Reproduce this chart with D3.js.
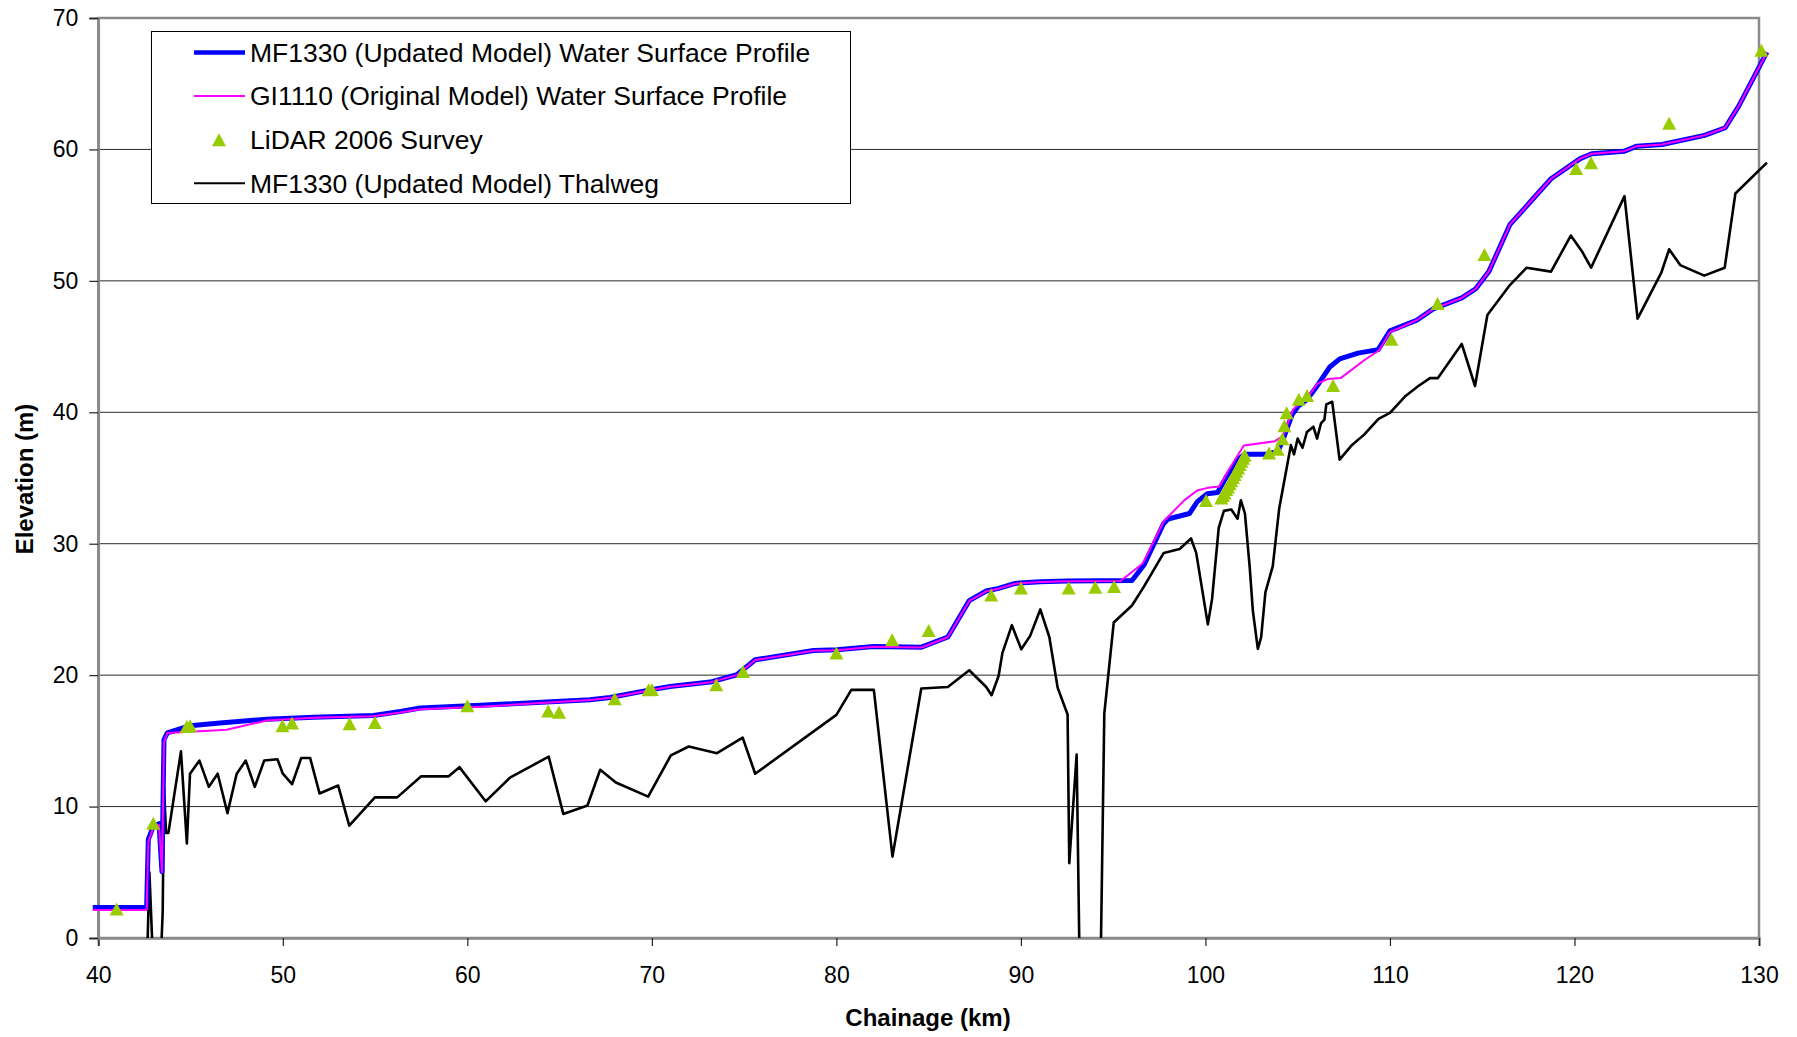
<!DOCTYPE html>
<html>
<head>
<meta charset="utf-8">
<script src="https://cdn.jsdelivr.net/npm/d3@7"></script>
<style>
  body { margin: 0; background: #fff; }
  svg { display: block; font-family: "Liberation Sans", Arial, sans-serif; }
</style>
</head>
<body>
<svg id="chart" width="1797" height="1037"></svg>
<script>
// chainage (km), elevation (m)
const thalweg = [
  [40, -3], [42.62, -3], [42.77, 5.0], [43.0, -3], [43.35, -3], [43.49, 2.0], [43.56, 11.5],
  [43.67, 8.0], [43.8, 8.0], [44.48, 14.2], [44.8, 7.2], [44.97, 12.5], [45.48, 13.5],
  [45.99, 11.5], [46.47, 12.5], [47.0, 9.5], [47.5, 12.5], [47.99, 13.5], [48.48, 11.5],
  [48.99, 13.5], [49.71, 13.6], [50.0, 12.5], [50.5, 11.7], [51.0, 13.7], [51.48, 13.7],
  [51.99, 11.0], [53.0, 11.6], [53.6, 8.55], [54.99, 10.7], [56.2, 10.7], [57.5, 12.3],
  [58.99, 12.3], [59.57, 13.0], [60.99, 10.4], [62.31, 12.2], [64.41, 13.8], [65.2, 9.44],
  [66.51, 10.08], [67.2, 12.8], [68.05, 11.83], [69.8, 10.76], [71.03, 13.9], [72.0, 14.57],
  [73.53, 14.06], [74.92, 15.25], [75.6, 12.5], [80.0, 16.98], [80.81, 18.88], [82.03, 18.88],
  [83.04, 6.19], [84.6, 18.98], [86.04, 19.1], [87.2, 20.37], [88.12, 19.1], [88.41, 18.47],
  [88.79, 19.93], [89.0, 21.7], [89.51, 23.8], [90.02, 21.97], [90.5, 22.99], [91.05, 25.0],
  [91.54, 22.9], [91.99, 19.05], [92.53, 17.0], [92.62, 5.7], [93.02, 13.95], [93.2, -4],
  [94.3, -4], [94.52, 17.08], [95.03, 24.0], [96.02, 25.3], [96.65, 26.7], [97.74, 29.3],
  [98.6, 29.6], [99.22, 30.4], [99.5, 29.3], [100.13, 23.86], [100.36, 25.8], [100.72, 31.2],
  [101.0, 32.5], [101.4, 32.6], [101.74, 31.9], [101.92, 33.3], [102.14, 32.3], [102.4, 28.2],
  [102.57, 24.9], [102.84, 22.0], [103.02, 22.9], [103.25, 26.3], [103.65, 28.3], [104.0, 32.7],
  [104.63, 37.5], [104.8, 36.8], [105.0, 38.0], [105.26, 37.3], [105.5, 38.5], [105.85, 38.9],
  [106.05, 38.0], [106.26, 39.15], [106.45, 39.45], [106.55, 40.6], [106.87, 40.8], [107.27, 36.4],
  [107.9, 37.45], [108.6, 38.3], [109.38, 39.5], [110.0, 39.95], [110.81, 41.2], [111.54, 42.0],
  [112.17, 42.6], [112.6, 42.6], [113.89, 45.2], [114.61, 42.0], [115.28, 47.4], [116.51, 49.7],
  [117.41, 51.0], [118.73, 50.7], [119.8, 53.45], [120.4, 52.26], [120.9, 51.0], [122.71, 56.45],
  [123.42, 47.13], [124.7, 50.6], [125.13, 52.4], [125.73, 51.2], [127.03, 50.4], [128.14, 51.0],
  [128.72, 56.65], [130.43, 59.0]
];

const wsUpdated = [
  [39.7, 2.33], [42.62, 2.33], [42.71, 7.5], [42.98, 8.5], [43.29, 8.7], [43.45, 5.05],
  [43.56, 15.1], [43.74, 15.6], [44.97, 16.15], [46.6, 16.35], [49.13, 16.65], [51.66, 16.8],
  [54.92, 16.93], [56.37, 17.23], [57.45, 17.5], [60.7, 17.7], [66.65, 18.12], [67.74, 18.3],
  [69.91, 18.88], [70.99, 19.14], [73.16, 19.47], [74.61, 20.03], [75.6, 21.17], [78.76, 21.88],
  [80.03, 21.93], [82.03, 22.18], [84.61, 22.13], [86.04, 22.9], [87.2, 25.67], [88.12, 26.4],
  [88.79, 26.6], [89.69, 26.98], [91.05, 27.1], [92.5, 27.16], [96.02, 27.2], [96.68, 28.4],
  [97.72, 31.5], [97.97, 31.88], [99.14, 32.3], [99.56, 33.2], [100.1, 33.8], [100.66, 33.9],
  [101.13, 35.08], [101.76, 36.4], [102.13, 36.8], [103.3, 36.8], [103.93, 37.03], [104.2, 37.9],
  [104.69, 39.8], [105.02, 40.46], [105.53, 41.0], [106.1, 42.1], [106.74, 43.45], [107.28, 44.06],
  [108.27, 44.5], [109.36, 44.77], [110.0, 46.2], [111.45, 47.0], [112.35, 47.87], [113.89, 48.7],
  [114.65, 49.4], [115.37, 50.74], [116.51, 54.3], [117.6, 56.0], [118.73, 57.77], [120.31, 59.3],
  [120.94, 59.67], [122.71, 59.87], [123.38, 60.25], [124.74, 60.38], [127.05, 61.07],
  [128.17, 61.65], [128.9, 63.3], [130.43, 67.4]
];

const wsOriginal = [
  [39.7, 2.13], [42.62, 2.13], [42.71, 7.3], [42.98, 8.4], [43.29, 8.6], [43.45, 5.0],
  [43.56, 14.9], [43.74, 15.6], [46.96, 15.84], [48.05, 16.2], [49.13, 16.55], [51.66, 16.75],
  [54.92, 16.88], [56.37, 17.15], [57.45, 17.4], [60.7, 17.6], [66.65, 18.1], [67.74, 18.28],
  [69.91, 18.85], [70.99, 19.12], [73.16, 19.45], [74.61, 20.0], [75.6, 21.15], [78.76, 21.86],
  [80.03, 21.9], [82.03, 22.16], [84.61, 22.1], [86.04, 22.88], [87.2, 25.65], [88.12, 26.38],
  [88.79, 26.58], [89.69, 26.96], [91.05, 27.08], [92.5, 27.14], [95.4, 27.16], [96.6, 28.5],
  [97.76, 31.75], [98.85, 33.3], [99.55, 34.05], [100.12, 34.25], [100.75, 34.35], [101.3, 35.7],
  [102.08, 37.47], [103.77, 37.8], [104.2, 38.2], [104.75, 40.2], [105.2, 40.84], [105.65, 41.35],
  [106.07, 42.18], [106.65, 42.54], [107.33, 42.6], [108.64, 44.0], [109.42, 44.72], [110.0, 46.1],
  [111.45, 47.0], [112.35, 47.87], [113.89, 48.7], [114.65, 49.4], [115.37, 50.74], [116.51, 54.3],
  [117.6, 56.0], [118.73, 57.77], [120.31, 59.3], [120.94, 59.67], [122.71, 59.87], [123.38, 60.25],
  [124.74, 60.38], [127.05, 61.07], [128.17, 61.65], [128.9, 63.3], [130.43, 67.4]
];

const lidar = [
  [40.99, 2.2], [42.98, 8.73], [44.79, 16.1], [44.97, 16.15], [49.98, 16.14], [50.5, 16.35],
  [53.62, 16.3], [54.99, 16.4], [60.0, 17.67], [64.38, 17.28], [64.97, 17.18], [67.99, 18.2],
  [69.82, 18.88], [70.0, 18.9], [73.49, 19.26], [74.94, 20.28], [80.0, 21.68], [83.02, 22.69],
  [85.0, 23.4], [88.39, 26.1], [90.0, 26.63], [92.59, 26.63], [94.03, 26.69], [95.05, 26.75],
  [100.03, 33.28], [100.86, 33.48], [100.95, 33.66], [101.04, 33.86], [101.13, 34.12],
  [101.22, 34.32], [101.31, 34.57], [101.4, 34.8], [101.49, 35.03], [101.58, 35.26],
  [101.67, 35.51], [101.77, 35.77], [101.86, 36.02], [101.95, 36.27], [102.04, 36.5],
  [102.13, 36.73], [103.45, 36.9], [103.91, 37.18], [104.17, 37.98], [104.28, 38.98],
  [104.4, 39.96], [105.06, 41.0], [105.51, 41.27], [106.92, 42.03], [110.08, 45.55],
  [112.58, 48.27], [115.12, 52.0], [120.09, 58.55], [120.9, 58.98], [125.13, 62.0], [130.13, 67.54]
];

const xTicks = [40, 50, 60, 70, 80, 90, 100, 110, 120, 130];
const yTicks = [0, 10, 20, 30, 40, 50, 60, 70];

const legendItems = [
  { label: "MF1330 (Updated Model) Water Surface Profile", type: "line", color: "#0000ff", width: 4.5 },
  { label: "GI1110 (Original Model) Water Surface Profile", type: "line", color: "#ff00ff", width: 2 },
  { label: "LiDAR 2006 Survey", type: "tri", color: "#99cc00" },
  { label: "MF1330 (Updated Model) Thalweg", type: "line", color: "#000000", width: 2 }
];

const svg = d3.select("#chart");
const margin = { top: 18, left: 98.3, right: 38, bottom: 99 };
const width = 1797 - margin.left - margin.right;
const height = 1037 - margin.top - margin.bottom;

const x = d3.scaleLinear().domain([40, 130]).range([0, width]);
const y = d3.scaleLinear().domain([0, 70]).range([height, 0]);

svg.append("rect").attr("width", 1797).attr("height", 1037).attr("fill", "#fff");

const g = svg.append("g").attr("transform", "translate(" + margin.left + "," + margin.top + ")");

svg.append("defs").append("clipPath").attr("id", "plotclip")
  .append("rect").attr("x", -10).attr("y", -10).attr("width", width + 20).attr("height", height + 10);

// gridlines
g.selectAll(".grid").data(yTicks.filter(d => d > 0 && d < 70)).enter()
  .append("line")
  .attr("x1", 0).attr("x2", width)
  .attr("y1", d => y(d)).attr("y2", d => y(d))
  .attr("stroke", "#2a2a2a").attr("stroke-width", 1);

// plot area border
g.append("rect").attr("width", width).attr("height", height)
  .attr("fill", "none").attr("stroke", "#8a8a8a").attr("stroke-width", 2.5);

// axes
const xAxis = g.append("g")
  .attr("transform", "translate(0," + height + ")")
  .call(d3.axisBottom(x).tickValues(xTicks).tickSize(8).tickPadding(21).tickFormat(d3.format("d")));
const yAxis = g.append("g")
  .call(d3.axisLeft(y).tickValues(yTicks).tickSize(9).tickPadding(11).tickFormat(d3.format("d")));

[xAxis, yAxis].forEach(a => {
  a.select(".domain").attr("stroke", "#8a8a8a").attr("stroke-width", 2.5);
  a.selectAll(".tick line").attr("stroke", "#222").attr("stroke-width", 1.2);
  a.selectAll("text").attr("fill", "#000").style("font-size", "23px")
    .style("font-family", "'Liberation Sans', Arial, sans-serif");
});

const line = d3.line().x(d => x(d[0])).y(d => y(d[1]));
const plot = g.append("g").attr("clip-path", "url(#plotclip)");

plot.append("path").datum(thalweg)
  .attr("fill", "none").attr("stroke", "#000").attr("stroke-width", 2.6)
  .attr("stroke-linejoin", "round").attr("d", line);

plot.append("path").datum(wsUpdated)
  .attr("fill", "none").attr("stroke", "#0000ff").attr("stroke-width", 5)
  .attr("stroke-linejoin", "round").attr("d", line);

plot.append("path").datum(wsOriginal)
  .attr("fill", "none").attr("stroke", "#ff00ff").attr("stroke-width", 2)
  .attr("stroke-linejoin", "round").attr("d", line);

const tri = (w, h) => "M0," + (-h / 2) + "L" + (w / 2) + "," + (h / 2) + "L" + (-w / 2) + "," + (h / 2) + "Z";

plot.selectAll(".lidar").data(lidar).enter()
  .append("path")
  .attr("d", tri(14, 13))
  .attr("transform", d => "translate(" + x(d[0]) + "," + y(d[1]) + ")")
  .attr("fill", "#99cc00");

// axis titles
svg.append("text")
  .attr("x", 928).attr("y", 1026)
  .attr("text-anchor", "middle")
  .style("font-size", "24px").style("font-weight", "bold")
  .text("Chainage (km)");

svg.append("text")
  .attr("transform", "translate(33,479) rotate(-90)")
  .attr("text-anchor", "middle")
  .style("font-size", "24px").style("font-weight", "bold")
  .text("Elevation (m)");

// legend
const legend = svg.append("g");
legend.append("rect")
  .attr("x", 151.5).attr("y", 31.5).attr("width", 699).attr("height", 172)
  .attr("fill", "#fff").attr("stroke", "#000").attr("stroke-width", 1);

const rows = legend.selectAll(".row").data(legendItems).enter()
  .append("g")
  .attr("transform", (d, i) => "translate(0," + (52.5 + i * 43.6) + ")");

rows.filter(d => d.type === "line").append("line")
  .attr("x1", 194).attr("x2", 245)
  .attr("stroke", d => d.color).attr("stroke-width", d => d.width);

rows.filter(d => d.type === "tri").append("path")
  .attr("d", tri(14, 13))
  .attr("transform", "translate(219,0)")
  .attr("fill", d => d.color);

rows.append("text")
  .attr("x", 250).attr("dy", "0.35em")
  .style("font-size", "26.5px")
  .text(d => d.label);
</script>
</body>
</html>
